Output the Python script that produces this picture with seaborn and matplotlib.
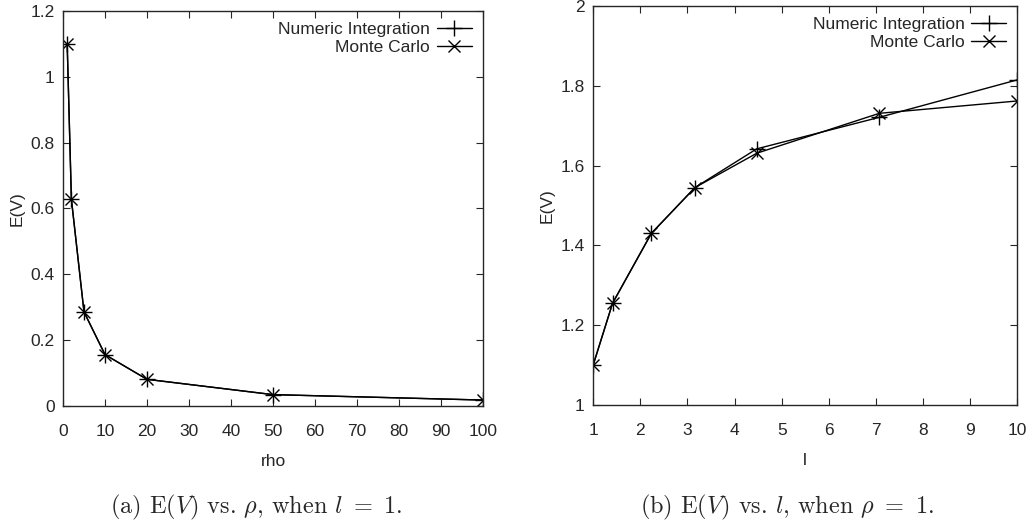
import numpy as np
import pandas as pd
import seaborn as sns
import matplotlib
matplotlib.use('Agg')
import matplotlib.pyplot as plt
from matplotlib.ticker import FuncFormatter

# valeurs
rho = [1, 2, 5, 10, 20, 50, 100]
ev_rho_num = [1.099, 0.628, 0.286, 0.156, 0.081, 0.0345, 0.018]
ev_rho_mc = [1.099, 0.628, 0.286, 0.156, 0.081, 0.0345, 0.018]

l_vals = [1, 1.414, 2.236, 3.162, 4.472, 7.071, 10]
ev_l_num = [1.099, 1.255, 1.430, 1.545, 1.642, 1.721, 1.815]
ev_l_mc = [1.099, 1.255, 1.430, 1.545, 1.631, 1.731, 1.762]

sns.set_style('ticks')
plt.rcParams['font.family'] = ['Liberation Sans', 'DejaVu Sans']
plt.rcParams['font.size'] = 12
plt.rcParams['mathtext.fontset'] = 'cm'

fig = plt.figure(figsize=(10.31, 5.25), dpi=100)
ax1 = fig.add_axes([0.0611, 0.2267, 0.4074, 0.7524])
ax2 = fig.add_axes([0.5752, 0.2286, 0.4117, 0.7600])

fmt = FuncFormatter(lambda v, p: '%g' % round(v, 6))


def draw(ax, x, y_num, y_mc, xlabel):
    sns.lineplot(x=x, y=y_num, ax=ax, color='black', linewidth=1,
                 marker='+', markersize=11, markeredgewidth=1,
                 markeredgecolor='black', label='Numeric Integration')
    sns.lineplot(x=x, y=y_mc, ax=ax, color='black', linewidth=1,
                 marker='x', markersize=9, markeredgewidth=1,
                 markeredgecolor='black', label='Monte Carlo')
    ax.set_xlabel(xlabel, labelpad=11, fontsize=12.5)
    ax.set_ylabel('E(V)', labelpad=4, fontsize=12.5)
    ax.tick_params(direction='in', top=True, right=True, length=5,
                   width=0.8, labelsize=12.5)
    ax.tick_params(axis='x', pad=13)
    ax.tick_params(axis='y', pad=6)
    for s in ax.spines.values():
        s.set_linewidth(1)
        s.set_visible(True)
    ax.xaxis.set_major_formatter(fmt)
    ax.yaxis.set_major_formatter(fmt)
    ax.legend(loc='upper right', frameon=False, markerfirst=False,
              handlelength=2.0, handletextpad=0.4, labelspacing=0.15,
              borderaxespad=0.25, fontsize=12.5)


draw(ax1, rho, ev_rho_num, ev_rho_mc, 'rho')
ax1.set_xlim(0, 100)
ax1.set_ylim(0, 1.2)
ax1.set_xticks(np.arange(0, 101, 10))
ax1.set_yticks(np.arange(0, 1.21, 0.2))

draw(ax2, l_vals, ev_l_num, ev_l_mc, 'l')
ax2.set_xlim(1, 10)
ax2.set_ylim(1, 2)
ax2.set_xticks(np.arange(1, 11, 1))
ax2.set_yticks(np.arange(1, 2.01, 0.2))

fig.text(0.249, 0.034, r'(a) E($V$) vs. $\rho$, when $l\ =\ 1$.',
         ha='center', va='center', fontsize=17.5, family='cmr10')
fig.text(0.763, 0.034, r'(b) E($V$) vs. $l$, when $\rho\ =\ 1$.',
         ha='center', va='center', fontsize=17.5, family='cmr10')

fig.savefig('out.png', dpi=100)
